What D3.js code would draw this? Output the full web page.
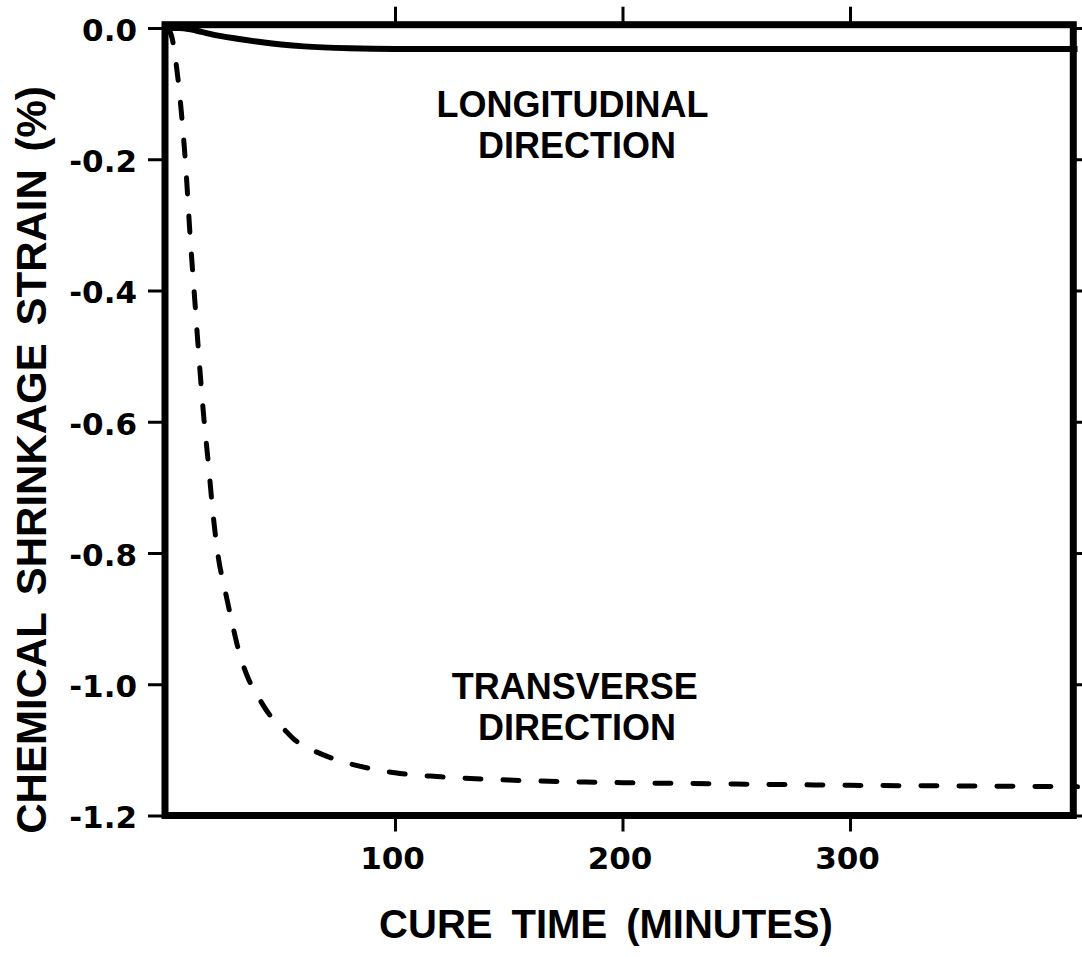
<!DOCTYPE html>
<html>
<head>
<meta charset="utf-8">
<script src="https://cdn.jsdelivr.net/npm/d3@7"></script>
<style>
  body { margin: 0; background: #fff; }
  svg { display: block; }
</style>
</head>
<body>
<div id="container"></div>
<script>
// Chemical shrinkage strain vs cure time

//### DATA ###
// transverse direction (dashed)
const timeTrans = [ 0, 2, 4, 6, 8, 10, 12, 14, 16, 18, 20, 22.5, 25, 28, 31, 35, 40, 45, 50, 56, 63, 71, 80, 90, 100, 120, 150, 200, 250, 300, 350, 400 ];
const strainTrans = [ 0, -0.015, -0.06, -0.125, -0.21, -0.32, -0.415, -0.51, -0.595, -0.665, -0.74, -0.81, -0.852, -0.9, -0.945, -0.987, -1.02, -1.047, -1.064, -1.085, -1.099, -1.111, -1.121, -1.129, -1.135, -1.141, -1.146, -1.150, -1.152, -1.154, -1.155, -1.156 ];

// longitudinal direction (solid)
const timeLong = [ 0, 5, 10, 15, 20, 30, 40, 50, 60, 80, 100, 150, 200, 300, 400 ];
const strainLong = [ 0, 0, -0.002, -0.006, -0.010, -0.016, -0.021, -0.025, -0.028, -0.031, -0.032, -0.032, -0.032, -0.032, -0.032 ];

// axes
const xTickValues = [ 100, 200, 300 ];
const xTickLabels = [ '100', '200', '300' ];
const yTickValues = [ 0, -0.2, -0.4, -0.6, -0.8, -1.0, -1.2 ];
const yTickLabels = [ '0.0', '-0.2', '-0.4', '-0.6', '-0.8', '-1.0', '-1.2' ];

const xTitle = 'CURE TIME (MINUTES)';
const yTitle = 'CHEMICAL SHRINKAGE STRAIN (%)';

// curve labels, anchored in data units (time, strain)
const labelLines = [ 'LONGITUDINAL', 'DIRECTION', 'TRANSVERSE', 'DIRECTION' ];
const labelTimes = [ 178, 180, 179, 180 ];
const labelStrains = [ -0.136, -0.198, -1.022, -1.085 ];


//### DRAW ###
function drawChart () {

  //_____ VARIABLES _____
  const W = 1082, H = 957;
  const box = { left: 165, top: 24.7, right: 1073.3, bottom: 815.5 };
  const digitFont = '"DejaVu Sans", sans-serif';
  const wordFont = '"Liberation Sans", Arial, sans-serif';

  const svg = d3.select( '#container' )
    .append( 'svg' )
    .attr( 'width', W )
    .attr( 'height', H );

  //_____ SCALES _____
  const xScale = d3.scaleLinear()
    .domain( [ 0, 400 ] )
    .range( [ 167.5, 1077.5 ] );

  const yScale = d3.scaleLinear()
    .domain( [ -1.2, 0 ] )
    .range( [ 815.5, 28 ] );

  //_____ FRAME _____
  svg.append( 'rect' )
    .attr( 'x', box.left )
    .attr( 'y', box.top )
    .attr( 'width', box.right - box.left )
    .attr( 'height', box.bottom - box.top )
    .attr( 'fill', 'none' )
    .attr( 'stroke', '#000' )
    .attr( 'stroke-width', 7 );

  //_____ AXES _____
  const styleAxis = g => {
    g.select( '.domain' ).remove();
    g.selectAll( '.tick line' ).attr( 'stroke', '#000' ).attr( 'stroke-width', 3 );
    g.selectAll( '.tick text' )
      .attr( 'fill', '#000' )
      .style( 'font-family', digitFont )
      .style( 'font-weight', 'bold' )
      .style( 'font-size', '31px' );
  };

  svg.append( 'g' )
    .attr( 'id', 'y-axis' )
    .attr( 'transform', `translate(${box.left},0)` )
    .call( d3.axisLeft( yScale )
      .tickValues( yTickValues )
      .tickFormat( d => yTickLabels[ yTickValues.indexOf( d ) ] )
      .tickSize( 17 )
      .tickPadding( 11 ) )
    .call( styleAxis )
    .selectAll( '.tick text' ).attr( 'dy', '0.4em' );

  svg.append( 'g' )
    .attr( 'id', 'y-axis-right' )
    .attr( 'transform', `translate(${box.right},0)` )
    .call( d3.axisRight( yScale ).tickValues( yTickValues ).tickFormat( '' ).tickSize( 9 ) )
    .call( styleAxis );

  svg.append( 'g' )
    .attr( 'id', 'x-axis' )
    .attr( 'transform', `translate(0,${box.bottom})` )
    .call( d3.axisBottom( xScale )
      .tickValues( xTickValues )
      .tickFormat( d => xTickLabels[ xTickValues.indexOf( d ) ] )
      .tickSize( 16 )
      .tickPadding( 15 ) )
    .call( styleAxis )
    .selectAll( '.tick text' ).attr( 'dx', '-3' );

  svg.append( 'g' )
    .attr( 'id', 'x-axis-top' )
    .attr( 'transform', `translate(0,${box.top})` )
    .call( d3.axisTop( xScale ).tickValues( xTickValues ).tickFormat( '' ).tickSize( 18 ) )
    .call( styleAxis );

  //_____ CURVES _____
  const line = d3.line()
    .x( d => xScale( d[ 0 ] ) )
    .y( d => yScale( d[ 1 ] ) )
    .curve( d3.curveMonotoneX );

  svg.append( 'path' )
    .datum( timeLong.map( ( t, i ) => [ t, strainLong[ i ] ] ) )
    .attr( 'd', line )
    .attr( 'fill', 'none' )
    .attr( 'stroke', '#000' )
    .attr( 'stroke-width', 6 );

  svg.append( 'path' )
    .datum( timeTrans.map( ( t, i ) => [ t, strainTrans[ i ] ] ) )
    .attr( 'd', line )
    .attr( 'fill', 'none' )
    .attr( 'stroke', '#000' )
    .attr( 'stroke-width', 5 )
    .attr( 'stroke-linecap', 'round' )
    .attr( 'stroke-dasharray', '16,22' );

  //_____ CURVE LABELS _____
  labelLines.forEach( ( txt, i ) => {
    svg.append( 'text' )
      .attr( 'x', xScale( labelTimes[ i ] ) )
      .attr( 'y', yScale( labelStrains[ i ] ) )
      .attr( 'text-anchor', 'middle' )
      .style( 'font-family', wordFont )
      .style( 'font-weight', 'bold' )
      .style( 'font-size', '36px' )
      .text( txt );
  } );

  //_____ AXIS TITLES _____
  svg.append( 'text' )
    .attr( 'x', 606 )
    .attr( 'y', 938 )
    .attr( 'text-anchor', 'middle' )
    .style( 'font-family', wordFont )
    .style( 'font-weight', 'bold' )
    .style( 'font-size', '40px' )
    .style( 'word-spacing', '8px' )
    .text( xTitle );

  svg.append( 'text' )
    .attr( 'transform', 'translate(46,460) rotate(-90)' )
    .attr( 'text-anchor', 'middle' )
    .style( 'font-family', wordFont )
    .style( 'font-weight', 'bold' )
    .style( 'font-size', '42px' )
    .style( 'word-spacing', '6px' )
    .text( yTitle );
}

drawChart();
</script>
</body>
</html>
